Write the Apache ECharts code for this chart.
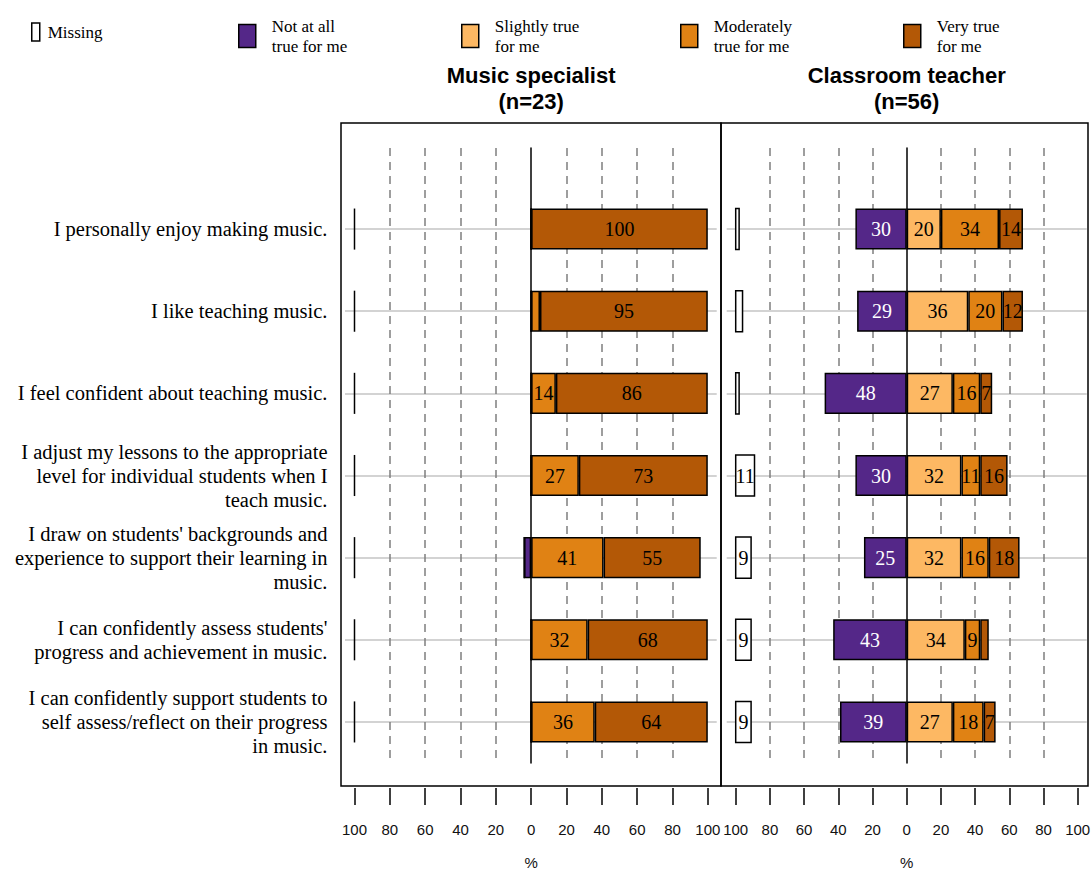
<!DOCTYPE html>
<html><head><meta charset="utf-8">
<script src="https://cdn.jsdelivr.net/npm/echarts@6/dist/echarts.min.js"></script>
<style>html,body{margin:0;padding:0;background:#fff}#c{width:1092px;height:870px}</style>
</head><body><div id="c"></div>
<script>
// ---------- data ----------
const categories = [
  'I personally enjoy making music.',
  'I like teaching music.',
  'I feel confident about teaching music.',
  'I adjust my lessons to the appropriate\nlevel for individual students when I\nteach music.',
  "I draw on students' backgrounds and\nexperience to support their learning in\nmusic.",
  "I can confidently assess students'\nprogress and achievement in music.",
  'I can confidently support students to\nself assess/reflect on their progress\nin music.'
];
const legendLabels = ['Missing', 'Not at all\ntrue for me', 'Slightly true\nfor me', 'Moderately\ntrue for me', 'Very true\nfor me'];
const panelTitles = ['Music specialist\n(n=23)', 'Classroom teacher\n(n=56)'];
const axisName = '%';

// Music specialist (n=23), percent
const specMissing    = [0, 0, 0, 0, 0, 0, 0];
const specNotAtAll   = [0, 0, 0, 0, 4, 0, 0];
const specSlightly   = [0, 0, 0, 0, 0, 0, 0];
const specModerately = [0, 5, 14, 27, 41, 32, 36];
const specVery       = [100, 95, 86, 73, 55, 68, 64];

// Classroom teacher (n=56), percent
const teachMissing    = [2, 4, 2, 11, 9, 9, 9];
const teachNotAtAll   = [30, 29, 48, 30, 25, 43, 39];
const teachSlightly   = [20, 36, 27, 32, 32, 34, 27];
const teachModerately = [34, 20, 16, 11, 16, 9, 18];
const teachVery       = [14, 12, 7, 16, 18, 5, 7];

// ---------- styling / layout ----------
const colors = ['#ffffff', '#542788', '#FDB863', '#E08214', '#B35806'];
const labelColors = ['#000', '#fff', '#000', '#000', '#000'];
const SERIF = '"Liberation Serif", "Times New Roman", serif';
const SANS = '"Liberation Sans", Arial, sans-serif';
const MISSING_ORIGIN = -100;
const LABEL_MIN = 6;

const DATA_TOP = 188, DATA_BOT = 763;
const DASH_TOP = 148;
const FRAME_TOP = 123, FRAME_BOT = 786;
const band = (DATA_BOT - DATA_TOP) / categories.length;

const panels = [
  { frame: { left: 341, width: 380 }, data: { left: 354.5, width: 353.3 }, rows: { left: 345, width: 371.7 },
    values: [specMissing, specNotAtAll, specSlightly, specModerately, specVery], showCats: true },
  { frame: { left: 721, width: 367 }, data: { left: 735.7, width: 342 }, rows: { left: 726.7, width: 360 },
    values: [teachMissing, teachNotAtAll, teachSlightly, teachModerately, teachVery], showCats: false }
];

const grids = [], xAxes = [], yAxes = [], series = [], graphics = [];
const dashColors = ['#7f7f7f', '#7f7f7f', '#7f7f7f', '#7f7f7f', 'rgba(0,0,0,0)', '#7f7f7f', '#7f7f7f', '#7f7f7f', '#7f7f7f'];

panels.forEach((p, pi) => {
  const g = pi * 4;
  // frame grid
  grids.push({ left: p.frame.left, top: FRAME_TOP, width: p.frame.width, height: FRAME_BOT - FRAME_TOP,
    show: true, borderColor: '#000', borderWidth: 1.5, backgroundColor: 'transparent', outerBoundsMode: 'none', containLabel: false });
  xAxes.push({ gridIndex: g, type: 'value', min: 0, max: 1, show: false });
  yAxes.push({ gridIndex: g, type: 'value', min: 0, max: 1, show: false });

  // data grid
  grids.push({ left: p.data.left, top: DATA_TOP, width: p.data.width, height: DATA_BOT - DATA_TOP, outerBoundsMode: 'none', containLabel: false });
  xAxes.push({ gridIndex: g + 1, type: 'value', min: -100, max: 100, interval: 20, position: 'bottom', offset: 25,
    axisLine: { show: false },
    axisTick: { show: true, length: 17, lineStyle: { color: '#000', width: 1.5 } },
    axisLabel: { formatter: v => String(Math.abs(v)), margin: 34, fontFamily: SANS, fontSize: 15, color: '#111' },
    splitLine: { show: false },
    name: axisName, nameLocation: 'middle', nameGap: 67,
    nameTextStyle: { fontFamily: SANS, fontSize: 15, lineHeight: 15, color: '#111' } });
  yAxes.push({ gridIndex: g + 1, type: 'category', data: categories, inverse: true,
    axisLine: { show: false }, axisTick: { show: false }, splitLine: { show: false },
    axisLabel: { show: p.showCats, interval: 0, margin: 27, fontFamily: SERIF, fontSize: 20.5, lineHeight: 24, color: '#000', align: 'right' } });

  // dashed reference lines grid
  const dl = p.data.left + p.data.width * 0.1, dw = p.data.width * 0.8;
  grids.push({ left: dl, top: DASH_TOP, width: dw, height: DATA_BOT - DASH_TOP, outerBoundsMode: 'none', containLabel: false });
  xAxes.push({ gridIndex: g + 2, type: 'value', min: -80, max: 80, interval: 20,
    axisLine: { show: false }, axisTick: { show: false }, axisLabel: { show: false },
    splitLine: { show: true, lineStyle: { color: dashColors, type: [8, 6], width: 1.5 } } });
  yAxes.push({ gridIndex: g + 2, type: 'value', min: 0, max: 1,
    axisLine: { show: true, onZero: true, lineStyle: { color: '#000', width: 1.5 } },
    axisTick: { show: false }, axisLabel: { show: false }, splitLine: { show: false } });

  // row guide lines grid
  grids.push({ left: p.rows.left, top: DATA_TOP + band / 2, width: p.rows.width, height: DATA_BOT - DATA_TOP - band, outerBoundsMode: 'none', containLabel: false });
  xAxes.push({ gridIndex: g + 3, type: 'value', min: 0, max: 1, show: false });
  yAxes.push({ gridIndex: g + 3, type: 'category', data: categories, inverse: true, boundaryGap: false,
    axisLine: { show: false }, axisTick: { show: false }, axisLabel: { show: false, interval: 0 },
    splitLine: { show: true, interval: 0, lineStyle: { color: '#c4c4c4', width: 1.5 } } });

  // bars
  for (let k = 1; k <= 4; k++) {
    const vals = p.values[k];
    series.push({
      type: 'bar', name: legendLabels[k], xAxisIndex: g + 1, yAxisIndex: g + 1, stack: 'st' + pi,
      barWidth: '50%', z: 3,
      data: vals.map(v => (k === 1 ? -v : v)),
      itemStyle: { color: colors[k], borderColor: '#000', borderWidth: 1.5 },
      label: { show: true, position: 'inside',
        formatter: d => (Math.abs(d.value) >= LABEL_MIN ? String(Math.abs(d.value)) : ''),
        fontFamily: SERIF, fontSize: 20, color: labelColors[k] },
      emphasis: { disabled: true }, silent: true
    });
  }
  // missing bars, starting at -100
  series.push({
    type: 'custom', name: legendLabels[0], xAxisIndex: g + 1, yAxisIndex: g + 1, z: 3,
    data: p.values[0].map((v, i) => [v, i]),
    encode: { x: 0, y: 1 },
    itemStyle: { color: '#fff', borderColor: '#000', borderWidth: 1.5 },
    silent: true,
    renderItem: (params, api) => {
      const v = api.value(0), idx = api.value(1);
      const a = api.coord([MISSING_ORIGIN, idx]);
      const b = api.coord([MISSING_ORIGIN + v, idx]);
      const h = api.size([0, 1])[1] * 0.5;
      const w = b[0] - a[0];
      const children = [];
      if (w < 0.5) {
        children.push({ type: 'line', shape: { x1: a[0], y1: a[1] - h / 2, x2: a[0], y2: a[1] + h / 2 },
          style: { stroke: '#000', lineWidth: 1.5 } });
      } else {
        children.push({ type: 'rect', shape: { x: a[0], y: a[1] - h / 2, width: w, height: h },
          style: { fill: '#fff', stroke: '#000', lineWidth: 1.5 } });
      }
      if (v >= LABEL_MIN) {
        children.push({ type: 'text', x: (a[0] + b[0]) / 2, y: a[1],
          style: { text: String(v), align: 'center', verticalAlign: 'middle', font: '20px ' + SERIF, fill: '#000' } });
      }
      return { type: 'group', children };
    }
  });

  // panel title
  graphics.push({ type: 'text', x: p.data.left + p.data.width / 2, y: 62,
    style: { text: panelTitles[pi], align: 'center', verticalAlign: 'top', font: 'bold 22px ' + SANS, lineHeight: 26, fill: '#000' } });
});

// legends
const legendPos = [
  { left: 31, top: 21, w: 8, h: 18, pad: [0, 0, 2, 3] },
  { left: 238, top: 13, w: 17, h: 23, pad: [0, 0, 6, 11] },
  { left: 461, top: 13, w: 17, h: 23, pad: [0, 0, 6, 11] },
  { left: 680, top: 13, w: 17, h: 23, pad: [0, 0, 6, 11] },
  { left: 903, top: 13, w: 17, h: 23, pad: [0, 0, 6, 11] }
];
const legends = legendLabels.map((name, i) => ({
  left: legendPos[i].left, top: legendPos[i].top, padding: 0, orient: 'horizontal',
  itemWidth: legendPos[i].w, itemHeight: legendPos[i].h, selectedMode: false,
  data: [{ name, icon: 'rect', itemStyle: { color: colors[i], borderColor: '#000', borderWidth: 1.5 } }],
  textStyle: { fontFamily: SERIF, fontSize: 17, lineHeight: 20, color: '#000', padding: legendPos[i].pad }
}));

const chart = echarts.init(document.getElementById('c'), null, { renderer: 'svg' });
chart.setOption({
  animation: false,
  backgroundColor: '#fff',
  grid: grids, xAxis: xAxes, yAxis: yAxes,
  legend: legends,
  series,
  graphic: graphics
});
</script></body></html>
